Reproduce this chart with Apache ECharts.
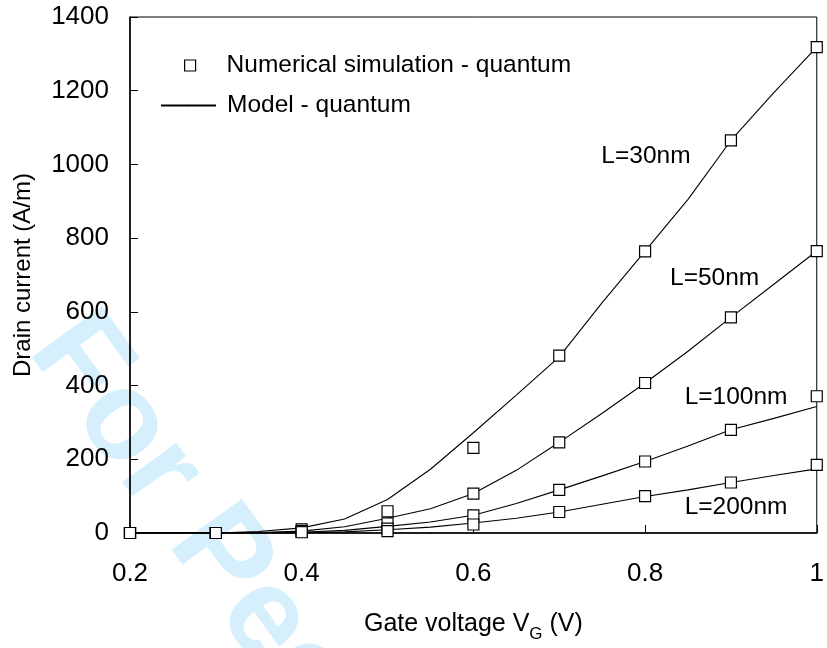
<!DOCTYPE html>
<html>
<head>
<meta charset="utf-8">
<script src="https://cdn.jsdelivr.net/npm/echarts@6/dist/echarts.min.js"></script>
<style>
html,body{margin:0;padding:0;background:#fff;}
#chart{width:827px;height:648px;}
</style>
</head>
<body>
<div id="chart"></div>
<script>
// ---- data ----
var simX = [0.2, 0.3, 0.4, 0.5, 0.6, 0.7, 0.8, 0.9, 1.0];
var sim30  = [0, 0, 10, 59, 231, 481, 764, 1065, 1318];
var sim50  = [0, 0, 5, 26, 107, 246, 407, 585, 765];
var sim100 = [0, 0, 3, 12, 48, 117, 194, 280, 371];
var sim200 = [0, 0, 2, 5, 23, 57, 100, 137, 185];

var modelX = [0.2, 0.25, 0.3, 0.35, 0.4, 0.45, 0.5, 0.55, 0.6, 0.65, 0.7, 0.75, 0.8, 0.85, 0.9, 0.95, 1.0];
var model30  = [0, 0, 0, 4, 14, 38, 91, 173, 272, 374, 478, 625, 765, 905, 1065, 1195, 1318];
var model50  = [0, 0, 0, 1, 5, 17, 40, 66, 107, 170, 246, 325, 407, 493, 585, 675, 765];
var model100 = [0, 0, 0, 0, 2, 7, 18, 30, 48, 80, 117, 155, 194, 236, 280, 311, 343];
var model200 = [0, 0, 0, 0, 1, 3, 9, 16, 27, 40, 57, 78, 99, 117, 137, 156, 174];

var xTicks = [0.2, 0.4, 0.6, 0.8, 1];
var yTicks = [0, 200, 400, 600, 800, 1000, 1200, 1400];

var curveLabels = ['L=30nm', 'L=50nm', 'L=100nm', 'L=200nm'];
var curveLabelX = [0.801, 0.881, 0.906, 0.906];
var curveLabelY = [1023, 692, 369, 70];

var simName = 'Numerical simulation - quantum';
var modelName = 'Model - quantum';

function pairs(xs, ys) { return xs.map(function (x, i) { return [x, ys[i]]; }); }

var FONT = 'Liberation Sans, Arial, Helvetica, sans-serif';
var chart = echarts.init(document.getElementById('chart'), null, {renderer: 'canvas'});

var modelSets = [model30, model50, model100, model200];
var simSets = [sim30, sim50, sim100, sim200];
var series = [];
modelSets.forEach(function (m) {
  series.push({
    name: modelName, type: 'line', data: pairs(modelX, m),
    symbol: 'none', smooth: false, z: 3,
    lineStyle: {color: '#000', width: 1.1}, itemStyle: {color: '#000'}
  });
});
simSets.forEach(function (s) {
  series.push({
    name: simName, type: 'scatter', data: pairs(simX, s),
    symbol: 'rect', symbolSize: 11, z: 4,
    itemStyle: {color: '#fff', borderColor: '#000', borderWidth: 1.2, opacity: 1}
  });
});

var option = {
  animation: false,
  backgroundColor: '#fff',
  grid: {left: 130, right: 6.5, top: 17, bottom: 111, show: true, borderColor: '#000', borderWidth: 1, z: 1},
  legend: [
    {data: [simName], left: 179, top: 48, itemWidth: 11, itemHeight: 11, icon: 'rect',
     itemStyle: {color: '#fff', borderColor: '#000', borderWidth: 1.2},
     textStyle: {fontFamily: FONT, fontSize: 24.5, color: '#000', padding: [0, 0, 0, 26]}, selectedMode: false},
    {data: [modelName], left: 155, top: 88, itemWidth: 55, itemHeight: 2,
     textStyle: {fontFamily: FONT, fontSize: 24.5, color: '#000', padding: [0, 0, 0, 6]}, selectedMode: false}
  ],
  xAxis: {
    type: 'value', min: 0.2, max: 1, interval: 0.2,
    name: 'Gate voltage V{sub|G} (V)', nameLocation: 'middle', nameGap: 79,
    nameTextStyle: {fontFamily: FONT, fontSize: 25, color: '#000',
      rich: {sub: {fontFamily: FONT, fontSize: 17, color: '#000', verticalAlign: 'bottom', padding: [0, 0, -6, 0]}}},
    axisLine: {show: true, onZero: false, lineStyle: {color: '#000', width: 1.5}},
    axisTick: {show: true, inside: true, length: 8, lineStyle: {color: '#000', width: 1}},
    axisLabel: {fontFamily: FONT, fontSize: 26, color: '#000', margin: 28,
      formatter: function (v) { return String(Math.round(v * 10) / 10); }},
    splitLine: {show: false}
  },
  yAxis: {
    type: 'value', min: 0, max: 1400, interval: 200,
    name: 'Drain current (A/m)', nameLocation: 'middle', nameGap: 95, nameRotate: 90,
    nameTextStyle: {fontFamily: FONT, fontSize: 24, color: '#000'},
    axisLine: {show: true, lineStyle: {color: '#000', width: 1.5}},
    axisTick: {show: true, inside: true, length: 8, lineStyle: {color: '#000', width: 1}},
    axisLabel: {fontFamily: FONT, fontSize: 26, color: '#000', margin: 21,
      formatter: function (v) { return String(v); }},
    splitLine: {show: false}
  },
  graphic: [{
    type: 'text', x: 55, y: 330, rotation: -54 * Math.PI / 180, z: -10, silent: true,
    style: {text: 'For Peer Review', font: 'bold 126px ' + FONT, fill: '#d5effc', verticalAlign: 'middle', align: 'left'}
  }],
  series: series
};
chart.setOption(option);

var labelGraphics = curveLabels.map(function (t, i) {
  var p = chart.convertToPixel({gridIndex: 0}, [curveLabelX[i], curveLabelY[i]]);
  return {type: 'text', x: p[0], y: p[1], z: 10, silent: true,
    style: {text: t, font: '24.5px ' + FONT, fill: '#000', align: 'center', verticalAlign: 'middle'}};
});
chart.setOption({graphic: option.graphic.concat(labelGraphics)});
</script>
</body>
</html>
